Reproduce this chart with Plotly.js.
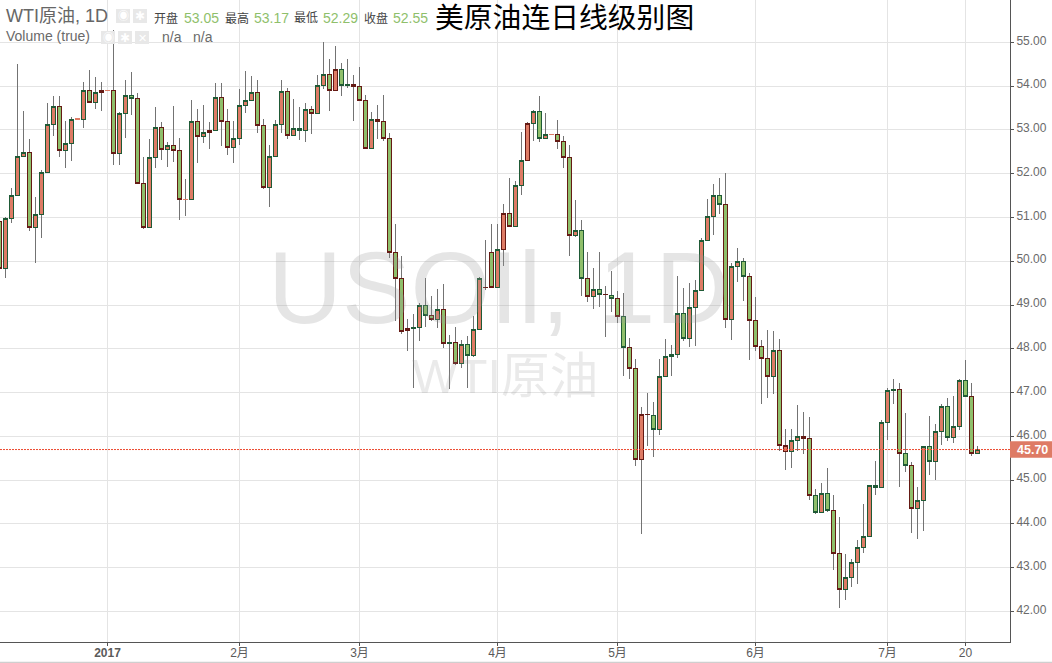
<!DOCTYPE html>
<html><head><meta charset="utf-8">
<script src="https://cdn.plot.ly/plotly-3.0.1.min.js"></script>
<style>html,body{margin:0;padding:0;background:#fff}#c{width:1052px;height:663px}</style></head>
<body><div id="c"></div>
<script>
// candle index -1 .. 162
const opens=[50.91,49.84,50.98,51.51,52.40,52.49,50.78,51.07,52.03,53.13,53.54,52.54,52.70,53.24,53.24,53.91,53.63,53.86,53.90,53.91,52.46,53.38,53.79,53.72,51.78,50.78,52.38,53.06,52.56,52.65,52.54,51.41,51.42,53.20,52.86,52.95,52.99,53.75,53.20,52.60,52.81,53.56,53.68,53.86,53.11,51.69,52.40,53.13,53.88,52.88,52.99,52.99,53.47,53.38,54.02,54.27,53.91,54.39,54.04,54.00,54.00,53.68,52.58,53.24,53.20,52.81,50.21,49.61,48.47,48.49,48.49,48.99,48.77,48.67,48.90,48.14,48.15,47.67,48.10,47.85,48.45,49.40,50.21,49.39,50.27,51.10,50.80,51.74,52.31,53.15,53.43,52.81,52.89,52.90,52.74,52.38,50.59,50.71,49.61,49.20,49.36,49.25,49.22,49.15,48.74,48.03,47.56,45.48,46.50,46.48,46.16,47.37,47.87,47.87,48.81,48.24,48.95,49.34,50.48,51.03,51.51,51.30,48.67,49.89,50.00,49.66,48.65,48.05,47.78,47.37,47.97,45.66,45.66,45.91,45.95,45.95,44.65,44.26,44.70,44.31,43.32,42.50,42.77,43.12,43.46,43.71,44.83,44.83,46.32,47.07,47.08,45.61,45.34,44.35,44.54,45.77,45.43,46.11,46.69,45.98,46.23,47.28,46.92,45.61];
const highs=[51.00,51.00,51.68,54.51,53.43,52.80,51.47,52.09,53.62,53.78,53.78,53.21,53.29,53.25,54.10,54.37,54.21,54.10,53.91,55.27,53.41,54.14,54.33,53.85,52.38,52.80,53.53,53.18,52.72,53.55,52.82,51.88,53.69,53.48,53.57,53.18,54.07,54.07,53.48,53.21,53.94,54.35,54.23,54.14,53.25,52.65,53.23,54.14,53.95,53.71,53.53,53.62,53.55,54.26,55.00,54.62,54.92,54.53,54.62,54.26,54.44,53.80,53.41,53.57,53.80,52.93,50.85,50.12,48.68,48.79,49.04,49.62,49.21,49.37,49.48,48.32,48.50,48.20,48.29,48.75,49.64,50.49,50.85,50.85,51.31,51.90,51.84,52.96,53.18,53.46,53.78,53.39,52.90,53.23,52.86,52.66,51.40,50.94,50.21,49.85,50.21,49.44,49.78,49.32,49.28,48.25,47.77,46.67,46.99,46.79,47.76,48.23,48.09,49.66,49.39,49.50,49.57,50.53,51.42,51.77,51.90,52.02,49.95,50.30,50.07,49.73,49.19,48.20,48.43,48.41,48.23,46.17,46.17,46.72,46.56,46.44,44.79,44.93,45.28,44.67,44.15,43.31,43.19,43.63,44.45,44.88,45.44,46.37,47.11,47.31,47.22,46.53,45.41,44.84,45.79,46.47,46.28,46.74,46.88,46.92,47.31,47.75,47.22,45.77];
const lows=[49.62,49.61,50.88,51.51,52.40,50.70,49.97,50.54,52.03,52.87,52.37,52.12,52.30,53.24,53.05,53.63,53.48,53.43,53.90,52.19,52.19,52.82,53.34,51.78,50.74,50.78,52.14,52.32,52.16,52.27,50.95,51.04,51.42,52.25,52.70,52.57,52.99,52.64,52.43,52.25,52.66,53.38,53.68,52.93,51.66,51.25,52.40,52.94,52.80,52.88,52.77,52.73,52.91,53.38,53.94,53.43,53.91,53.78,53.96,53.21,53.66,52.58,52.58,52.80,52.75,50.08,48.64,48.35,47.94,47.11,48.19,48.49,48.63,48.47,48.01,47.09,47.62,47.57,47.11,47.82,48.42,49.34,49.39,49.39,49.90,50.78,50.80,51.52,52.31,52.74,52.73,52.81,52.89,52.57,52.13,50.13,50.55,49.21,49.06,48.90,48.96,48.26,48.83,48.60,47.39,47.32,45.33,43.78,45.77,45.54,46.04,47.37,47.39,47.78,48.19,48.04,48.07,49.34,50.48,50.60,51.07,48.48,48.20,49.53,49.09,47.75,47.94,46.74,46.88,46.97,45.66,45.24,45.28,45.66,45.59,44.54,44.23,44.26,44.27,42.94,42.08,42.26,42.56,42.63,43.34,43.71,44.66,44.83,45.92,46.74,44.84,45.18,43.79,43.65,43.83,45.12,45.00,45.80,45.89,45.85,46.14,46.89,45.56,45.61];
const closes=[49.84,50.98,51.51,52.40,52.49,50.78,51.07,52.03,53.13,53.54,52.54,52.70,53.24,53.25,53.91,53.63,53.86,53.91,53.91,52.46,53.38,53.79,53.72,51.78,50.78,52.38,53.06,52.56,52.65,52.54,51.42,51.42,53.20,52.86,52.95,52.99,53.75,53.20,52.60,52.81,53.56,53.68,53.86,53.11,51.69,52.40,53.13,53.88,52.88,53.04,53.04,53.47,53.38,54.02,54.27,53.91,54.39,54.02,54.02,54.04,53.68,52.58,53.24,53.20,52.81,50.21,49.61,48.40,48.42,48.47,48.99,48.77,48.67,48.90,48.13,48.12,47.67,48.10,47.85,48.45,49.61,49.39,49.39,50.27,51.10,50.80,51.74,52.31,53.15,53.43,52.81,52.90,52.90,52.74,52.38,50.59,50.71,49.61,49.20,49.36,49.25,49.24,49.15,48.74,48.03,47.56,45.48,46.50,46.49,46.16,47.37,47.83,47.83,48.81,48.24,48.95,49.34,50.48,51.03,51.51,51.30,48.67,49.89,50.00,49.66,48.65,48.05,47.78,47.37,47.97,45.79,45.79,45.91,46.00,46.00,44.65,44.26,44.70,44.31,43.32,42.50,42.77,43.12,43.46,43.71,44.88,44.88,46.32,47.05,47.05,45.61,45.34,44.35,44.54,45.77,45.43,46.11,46.69,45.98,46.23,47.28,46.92,45.61,45.70];
// candles whose outline has the other colour (candle index)
const swappedEdge=[16,21,34,55,56,57,58,68,70,74,77,83,87,89,96,99,101,103,106,108,111,113,119,123,130,133,135,137,148,150,154,157,160];
const dojis=[12,17,30,91];
const tickIndex=[17,39,59,82,102,125,147,160];
const tickLabels=['<b>2017</b>','2月','3月','4月','5月','6月','7月','20'];
const priceTicks=[42,43,44,45,46,47,48,49,50,51,52,53,54,55];
const lastPrice=45.70;

const x=opens.map((_,k)=>k-1);
const bodyHigh=opens.map((o,k)=>Math.max(o,closes[k]));
const bodyLow=opens.map((o,k)=>Math.min(o,closes[k]));
const UP='#de7b65',DOWN='#8fbf6b',EDGE_UP='#1f5a36',EDGE_DOWN='#651a14',WICK='#737373';
const FONT='Arial, "Liberation Sans", "Noto Sans CJK SC", sans-serif';

function bodyTrace(keep,edgeUp,edgeDown){
  const idx=x.map((_,k)=>k).filter(k=>keep(x[k]));
  const pick=a=>idx.map(k=>a[k]);
  return {type:'candlestick',x:pick(x),open:pick(opens),high:pick(bodyHigh),low:pick(bodyLow),close:pick(closes),whiskerwidth:0,
    increasing:{line:{color:edgeUp,width:1},fillcolor:UP},decreasing:{line:{color:edgeDown,width:1},fillcolor:DOWN},showlegend:false};
}
const wicks={type:'candlestick',x,open:opens,high:highs,low:lows,close:closes,whiskerwidth:0,
  increasing:{line:{color:WICK,width:1},fillcolor:UP},decreasing:{line:{color:WICK,width:1},fillcolor:DOWN},hoverinfo:'skip',showlegend:false};
const bodiesA=bodyTrace(i=>!swappedEdge.includes(i)&&!dojis.includes(i),EDGE_UP,EDGE_DOWN);
const bodiesB=bodyTrace(i=>swappedEdge.includes(i),EDGE_DOWN,EDGE_UP);
const bodiesC=bodyTrace(i=>dojis.includes(i),UP,UP);

function txt(xp,yp,text,size,color,anchor,extra){
  return Object.assign({xref:'paper',yref:'paper',x:xp/1010,y:1-yp/641.7,text,showarrow:false,xanchor:anchor||'left',yanchor:'middle',
    font:{size,color,family:FONT},borderpad:0},extra||{});
}
const annotations=[
 txt(498.5,287,'USOIl, 1D',102.5,'rgba(150,150,150,0.25)','center'),
 txt(504.5,376,'WTI原油',48.6,'rgba(150,150,150,0.20)','center'),
 txt(5,16,'WTI原油, 1D',18,'#666'),
 txt(153,18,'开盘',12,'#444'),txt(183,18,'53.05',14,'#8fbf6b'),
 txt(224,18,'最高',12,'#444'),txt(253,18,'53.17',14,'#8fbf6b'),
 txt(293,18,'最低',12,'#444'),txt(322,18,'52.29',14,'#8fbf6b'),
 txt(363,18,'收盘',12,'#444'),txt(392,18,'52.55',14,'#8fbf6b'),
 txt(5,36,'Volume (true)',14,'#6a6a6a'),
 txt(161,37,'n/a',14,'#6a6a6a'),txt(192,37,'n/a',14,'#6a6a6a'),
 txt(434,18,'美原油连日线级别图',28.8,'#000'),
 txt(123,16,'◉',11,'#fff','center'),txt(140,16,'✱',12,'#fff','center'),
 txt(108,37.5,'◉',11,'#fff','center'),txt(125,37.5,'✱',12,'#fff','center'),txt(142,37.5,'✕',11,'#fff','center'),
 {xref:'paper',yref:'y',x:1,y:lastPrice,text:'<b>'+lastPrice.toFixed(2)+'</b>',showarrow:false,xanchor:'left',yanchor:'middle',xshift:5,font:{size:12.5,color:'#fff',family:FONT}}
];
const rect=(x0,y0,x1,y1,c)=>({type:'rect',xref:'paper',yref:'paper',x0:x0/1010,x1:x1/1010,y0:1-y0/641.7,y1:1-y1/641.7,fillcolor:c,line:{width:0},layer:'above'});
const shapes=[
 {type:'line',xref:'paper',yref:'y',x0:0,x1:1,y0:lastPrice,y1:lastPrice,line:{color:'#ec4a30',width:1,dash:'2px,1px'},layer:'above'},
 {type:'rect',xref:'paper',yref:'y',x0:1,x1:1.0416,y0:lastPrice-0.19,y1:lastPrice+0.19,fillcolor:'#de7b65',line:{width:0}},
 rect(116,9,130,23,'#e8e8e8'),rect(133,9,147,23,'#e8e8e8'),
 rect(101,31,115,44,'#e8e8e8'),rect(118,31,132,44,'#e8e8e8'),rect(135,31,149,44,'#e8e8e8'),
 rect(0,661.5,1052,663,'#cfcfcf')
];
const layout={width:1052,height:663,margin:{l:0,r:42,t:0,b:21.3},paper_bgcolor:'#fff',plot_bgcolor:'#fff',
 showlegend:false,annotations,shapes,dragmode:false,font:{family:FONT},boxmode:'overlay',boxgap:1/3,boxgroupgap:0,
 xaxis:{type:'linear',range:[-0.9167,167.4167],tickmode:'array',tickvals:tickIndex,ticktext:tickLabels,ticks:'outside',ticklen:3,tickcolor:'#555',
   ticklabelstandoff:-3,showgrid:true,gridcolor:'#e4e4e4',gridwidth:1,zeroline:false,rangeslider:{visible:false},showline:true,linecolor:'#555',linewidth:1,tickfont:{size:12,color:'#5a5a5a',family:FONT}},
 yaxis:{side:'right',range:[41.305,55.966],tickmode:'array',tickvals:priceTicks,tickformat:'.2f',ticks:'outside',ticklen:3,tickcolor:'#555',
   ticklabelshift:-2,showgrid:true,gridcolor:'#e4e4e4',gridwidth:1,zeroline:false,showline:true,linecolor:'#555',linewidth:1,mirror:false,tickfont:{size:12,color:'#6a6a6a',family:FONT}}
};
Plotly.newPlot('c',[wicks,bodiesA,bodiesB,bodiesC],layout,{staticPlot:true,displayModeBar:false}).then(()=>{
  document.querySelectorAll('.boxes path').forEach(p=>{p.style.shapeRendering='crispEdges';});
});
</script></body></html>
